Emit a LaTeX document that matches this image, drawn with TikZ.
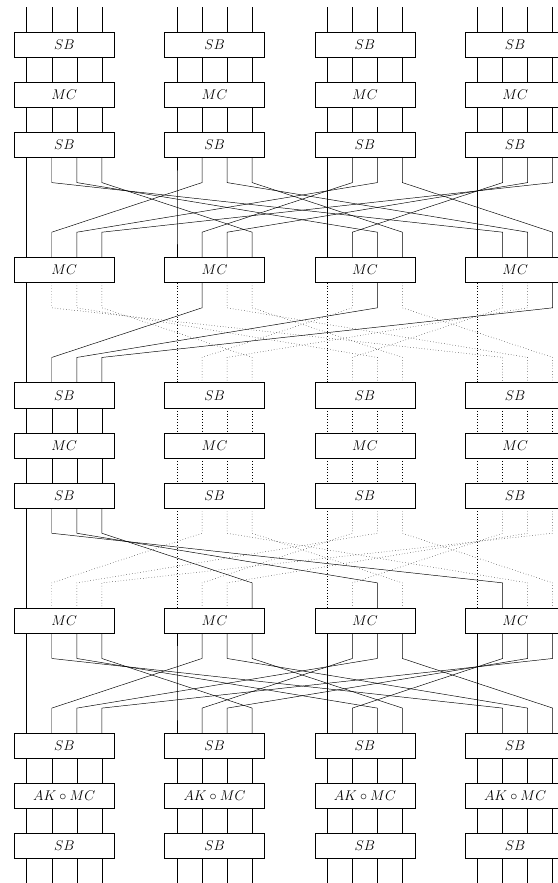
\documentclass[tikz,border=0pt]{standalone}
\usepackage{amsmath,amssymb}
\usepackage{tikz}

\begin{document}
\begin{tikzpicture}[
  blk/.style={draw,fill=white,minimum width=3cm,minimum height=7.5mm,inner sep=0pt,font=\fontsize{11.5pt}{14pt}\selectfont},
  wire/.style={line width=0.4pt},
  idle/.style={wire,dotted}
]
\useasboundingbox (0,0) rectangle (16.68,-26.44);
\foreach \r/\y/\lab in {1/-1.335/SB,2/-2.835/MC,3/-4.335/SB,4/-8.085/MC,5/-11.835/SB,6/-13.335/MC,
    7/-14.835/SB,8/-18.585/MC,9/-22.335/SB,10/-23.835/AK\circ MC,11/-25.335/SB}
  \foreach \c in {0,...,3}
    \node[blk] (b\r-\c) at (1.925+4.5*\c,\y) {$\lab$};
\foreach \c in {0,...,3}
  \foreach \k in {0,...,3} {
    \pgfmathsetmacro\dx{(\k-1.5)*0.75}
    \draw[wire] ([xshift=\dx cm]b1-\c.north) -- ++(0,0.75);
    \draw[wire] ([xshift=\dx cm]b11-\c.south) -- ++(0,-0.75);
  }
\foreach \a/\b in {1/2,2/3,5/6,6/7,9/10,10/11}
  \foreach \c in {0,...,3}
    \foreach \k in {0,...,3} {
      \pgfmathsetmacro\dx{(\k-1.5)*0.75}
      \pgfmathtruncatemacro\off{((\a==5)||(\a==6))&&(\c>0)}
      \ifnum\off=1 \def\ws{idle}\else\def\ws{wire}\fi
      \draw[\ws] ([xshift=\dx cm]b\a-\c.south) -- ([xshift=\dx cm]b\b-\c.north);
    }
\foreach \a/\b/\m in {3/4/0,4/5/1,7/8/2,8/9/0}
  \foreach \c in {0,...,3}
    \foreach \k in {0,...,3} {
      \pgfmathsetmacro\dx{(\k-1.5)*0.75}
      \pgfmathtruncatemacro\d{mod(\c-\k+4,4)}
      \pgfmathtruncatemacro\off{((\m==1)&&(\c!=\k))||((\m==2)&&(\c>0))}
      \ifnum\off=1 \def\ws{idle}\else\def\ws{wire}\fi
      \draw[\ws] ([xshift=\dx cm]b\a-\c.south) -- ++(0,-0.75)
        -- ([xshift=\dx cm,yshift=7.5mm]b\b-\d.north) -- ([xshift=\dx cm]b\b-\d.north);
    }
\end{tikzpicture}
\end{document}
